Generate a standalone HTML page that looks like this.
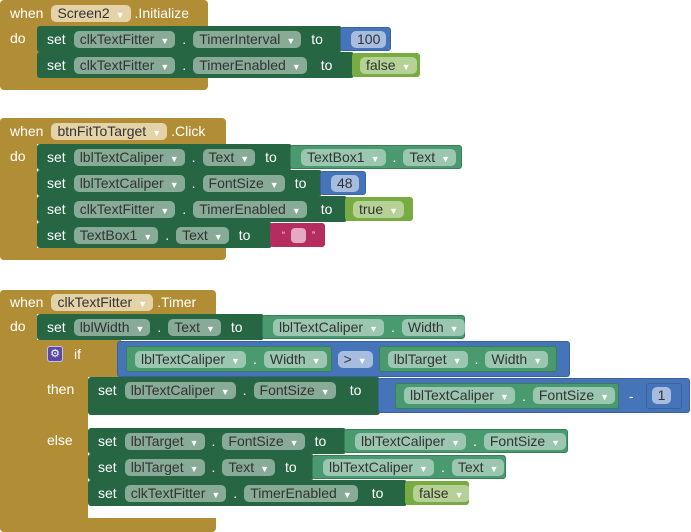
<!DOCTYPE html>
<html><head><meta charset="utf-8"><style>
body{margin:0;width:691px;height:532px;background:#fff;position:relative;overflow:hidden;font-family:"Liberation Sans",sans-serif;font-size:14px}
.g{position:absolute;background:#b18e35}
.b{position:absolute;display:flex;align-items:center;box-sizing:border-box;color:#fff;white-space:nowrap;border-radius:3px}
.s{background:#266643;padding-left:10px}
.c{background:#4a9a70;padding-left:8px;border:1px solid #3b7d5a}
.bl{background:#4674b8;padding-left:8px;border:1px solid #3a62a0}
.bo{background:#78ab41;padding-left:8px}
.pk{background:#b52d60;padding-left:12px}
.f{display:inline-block;height:17px;line-height:17px;padding:0 6px;border-radius:5px;background:rgba(255,255,255,.45);color:#333;margin:0 4px}
.f i{font-style:normal;font-size:9px;margin-left:6px;color:#fff}
.gold .f{background:#e5d3a8}
.d{margin:0 3px}
.t{margin:0 6px 0 6px}
.lab{position:absolute;color:#fff}
</style></head><body>
<!-- Block 1 -->
<div class="g" style="left:0;top:0;width:208px;height:90px;border-radius:4px"></div>
<div class="b gold" style="left:4px;top:2px;height:22px"><span style="margin:0 4px 0 6px">when</span><span class="f">Screen2<i>▼</i></span><span>.Initialize</span></div>
<div class="lab" style="left:10px;top:30px">do</div>
<div class="b s" style="left:37px;top:26px;width:305px;height:26px">set<span class="f" style="margin-left:8px">clkTextFitter<i>▼</i></span><span class="d">.</span><span class="f">TimerInterval<i>▼</i></span><span class="t">to</span></div>
<div class="b bl" style="left:340px;top:27px;width:51px;height:24px"><span class="f" style="margin:0 2px;background:#a7bde0">100</span></div>
<div class="b s" style="left:37px;top:52px;width:317px;height:26px">set<span class="f" style="margin-left:8px">clkTextFitter<i>▼</i></span><span class="d">.</span><span class="f">TimerEnabled<i>▼</i></span><span class="t" style="margin-left:10px">to</span></div>
<div class="b bo" style="left:352px;top:53px;width:68px;height:24px"><span class="f" style="margin:0">false<i>▼</i></span></div>

<!-- Block 2 -->
<div class="g" style="left:0;top:118px;width:226px;height:26px;border-radius:4px 4px 0 0"></div>
<div class="g" style="left:0;top:118px;width:37px;height:142px;border-radius:4px"></div>
<div class="g" style="left:0;top:248px;width:226px;height:12px;border-radius:0 0 4px 4px"></div>
<div class="b gold" style="left:4px;top:120px;height:22px"><span style="margin:0 4px 0 6px">when</span><span class="f">btnFitToTarget<i>▼</i></span><span>.Click</span></div>
<div class="lab" style="left:10px;top:148px">do</div>
<div class="b s" style="left:37px;top:144px;width:255px;height:26px">set<span class="f" style="margin-left:8px">lblTextCaliper<i>▼</i></span><span class="d">.</span><span class="f">Text<i>▼</i></span><span class="t">to</span></div>
<div class="b c" style="left:290px;top:145px;width:172px;height:24px"><span class="f" style="margin-left:2px">TextBox1<i>▼</i></span><span class="d">.</span><span class="f">Text<i>▼</i></span></div>
<div class="b s" style="left:37px;top:170px;width:285px;height:26px">set<span class="f" style="margin-left:8px">lblTextCaliper<i>▼</i></span><span class="d">.</span><span class="f">FontSize<i>▼</i></span><span class="t">to</span></div>
<div class="b bl" style="left:320px;top:171px;width:46px;height:24px"><span class="f" style="margin:0 2px;background:#a7bde0">48</span></div>
<div class="b s" style="left:37px;top:196px;width:310px;height:26px">set<span class="f" style="margin-left:8px">clkTextFitter<i>▼</i></span><span class="d">.</span><span class="f">TimerEnabled<i>▼</i></span><span class="t" style="margin-left:10px">to</span></div>
<div class="b bo" style="left:345px;top:197px;width:68px;height:24px"><span class="f" style="margin:0">true<i>▼</i></span></div>
<div class="b s" style="left:37px;top:222px;width:235px;height:26px">set<span class="f" style="margin-left:8px">TextBox1<i>▼</i></span><span class="d">.</span><span class="f">Text<i>▼</i></span><span class="t">to</span></div>
<div class="b pk" style="left:270px;top:223px;width:55px;height:24px"><span style="font-size:9px">“</span><span style="display:inline-block;width:15px;height:15px;background:#e6a9c3;border-radius:4px;margin:0 6px"></span><span style="font-size:9px">”</span></div>

<!-- Block 3 -->
<div class="g" style="left:0;top:290px;width:216px;height:24px;border-radius:4px 4px 0 0"></div>
<div class="g" style="left:0;top:290px;width:37px;height:242px;border-radius:4px"></div>
<div class="g" style="left:0;top:518px;width:216px;height:14px;border-radius:0 0 4px 4px"></div>
<div class="g" style="left:37px;top:340px;width:51px;height:180px;border-radius:3px"></div>
<div class="g" style="left:37px;top:340px;width:84px;height:37px"></div>
<div class="g" style="left:37px;top:506px;width:51px;height:12px"></div>
<div style="position:absolute;left:88px;top:415px;width:20px;height:13px;background:#fff"></div>
<div class="b gold" style="left:4px;top:291px;height:22px"><span style="margin:0 4px 0 6px">when</span><span class="f">clkTextFitter<i>▼</i></span><span>.Timer</span></div>
<div class="lab" style="left:10px;top:318px">do</div>
<div class="b s" style="left:37px;top:314px;width:227px;height:26px">set<span class="f" style="margin-left:8px">lblWidth<i>▼</i></span><span class="d">.</span><span class="f">Text<i>▼</i></span><span class="t">to</span></div>
<div class="b c" style="left:262px;top:315px;width:203px;height:24px"><span class="f" style="margin-left:2px">lblTextCaliper<i>▼</i></span><span class="d">.</span><span class="f">Width<i>▼</i></span></div>
<div style="position:absolute;left:47px;top:346px;width:16px;height:16px;background:#5a4aa8;border:1px solid #c8c0ea;border-radius:3px;box-sizing:border-box;color:#fff;font-size:11px;line-height:14px;text-align:center">⚙</div>
<div class="lab" style="left:74px;top:346px">if</div>
<div class="b bl" style="left:117px;top:341px;width:453px;height:36px;padding-left:8px">
 <div class="b c" style="position:static;height:26px;padding-left:4px"><span class="f">lblTextCaliper<i>▼</i></span><span class="d">.</span><span class="f">Width<i>▼</i></span></div>
 <span class="f" style="margin:0 6px;background:#a7bde0">&gt;<i>▼</i></span>
 <div class="b c" style="position:static;height:26px;padding-left:4px;width:178px"><span class="f">lblTarget<i>▼</i></span><span class="d">.</span><span class="f">Width<i>▼</i></span></div>
</div>
<div class="lab" style="left:47px;top:381px">then</div>
<div class="b s" style="left:88px;top:377px;width:292px;height:38px;align-items:flex-start;padding-top:5px">set<span class="f" style="margin-left:8px">lblTextCaliper<i>▼</i></span><span class="d">.</span><span class="f">FontSize<i>▼</i></span><span class="t" style="margin-left:10px">to</span></div>
<div class="b bl" style="left:378px;top:378px;width:312px;height:35px;padding-left:16px">
 <div class="b c" style="position:static;height:26px;padding-left:4px;width:224px"><span class="f">lblTextCaliper<i>▼</i></span><span class="d">.</span><span class="f">FontSize<i>▼</i></span></div>
 <span style="margin:0 12px 0 10px">-</span>
 <div class="b bl" style="position:static;height:26px;width:36px;padding-left:5px"><span class="f" style="margin:0;background:#a7bde0">1</span></div>
</div>
<div class="lab" style="left:47px;top:432px">else</div>
<div class="b s" style="left:88px;top:428px;width:258px;height:26px">set<span class="f" style="margin-left:8px">lblTarget<i>▼</i></span><span class="d">.</span><span class="f">FontSize<i>▼</i></span><span class="t">to</span></div>
<div class="b c" style="left:344px;top:429px;width:224px;height:24px"><span class="f" style="margin-left:2px">lblTextCaliper<i>▼</i></span><span class="d">.</span><span class="f">FontSize<i>▼</i></span></div>
<div class="b s" style="left:88px;top:454px;width:226px;height:26px">set<span class="f" style="margin-left:8px">lblTarget<i>▼</i></span><span class="d">.</span><span class="f">Text<i>▼</i></span><span class="t">to</span></div>
<div class="b c" style="left:312px;top:455px;width:194px;height:24px"><span class="f" style="margin-left:2px">lblTextCaliper<i>▼</i></span><span class="d">.</span><span class="f">Text<i>▼</i></span></div>
<div class="b s" style="left:88px;top:480px;width:319px;height:26px">set<span class="f" style="margin-left:8px">clkTextFitter<i>▼</i></span><span class="d">.</span><span class="f">TimerEnabled<i>▼</i></span><span class="t" style="margin-left:10px">to</span></div>
<div class="b bo" style="left:405px;top:481px;width:64px;height:24px"><span class="f" style="margin:0">false<i>▼</i></span></div>
</body></html>
